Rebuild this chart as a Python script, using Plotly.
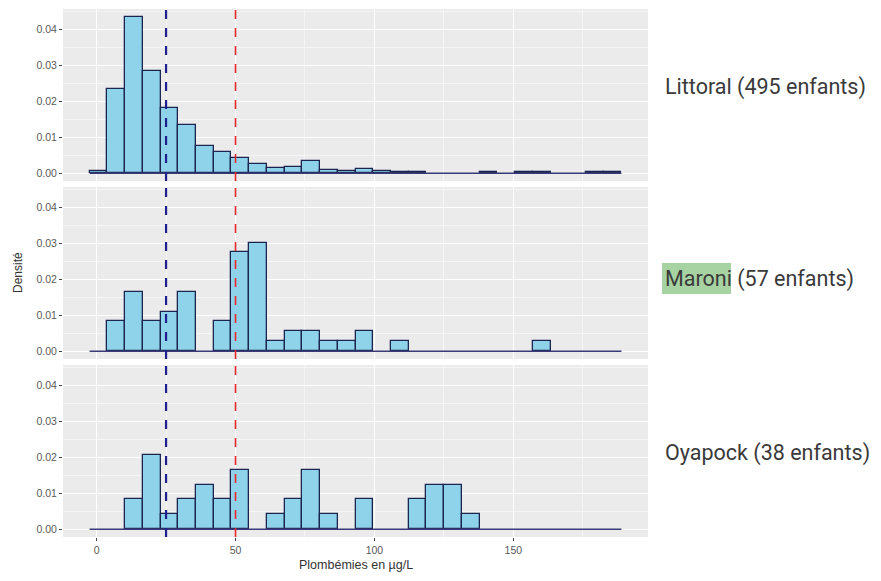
import plotly.graph_objects as go
from plotly.subplots import make_subplots

# ---- data ----
BIN_START = -2.52
BIN_WIDTH = 6.38
N_BINS = 30

panel_labels = ["Littoral (495 enfants)", "Maroni (57 enfants)", "Oyapock (38 enfants)"]

density_littoral = [0.0006, 0.0233, 0.0435, 0.0285, 0.0180, 0.0135, 0.0077, 0.0058, 0.0041, 0.0026,
                    0.0014, 0.0018, 0.0035, 0.0010, 0.0006, 0.0012, 0.0006, 0.0003, 0.0003, 0.0,
                    0.0, 0.0, 0.0003, 0.0, 0.0003, 0.0003, 0.0, 0.0, 0.0003, 0.0003]
density_maroni = [0.0, 0.0083, 0.0165, 0.0083, 0.0110, 0.0165, 0.0, 0.0083, 0.0275, 0.0302,
                  0.0028, 0.0055, 0.0055, 0.0028, 0.0028, 0.0055, 0.0, 0.0028, 0.0, 0.0,
                  0.0, 0.0, 0.0, 0.0, 0.0, 0.0028, 0.0, 0.0, 0.0, 0.0]
density_oyapock = [0.0, 0.0, 0.0083, 0.0206, 0.0041, 0.0083, 0.0124, 0.0083, 0.0165, 0.0,
                   0.0041, 0.0083, 0.0165, 0.0041, 0.0, 0.0083, 0.0, 0.0, 0.0083, 0.0124,
                   0.0124, 0.0041, 0.0, 0.0, 0.0, 0.0, 0.0, 0.0, 0.0, 0.0]

threshold_low = 25
threshold_high = 50

x_ticks = [0, 50, 100, 150]
y_ticks = [0.00, 0.01, 0.02, 0.03, 0.04]
y_tick_text = ["0.00", "0.01", "0.02", "0.03", "0.04"]

x_title = "Plombémies en µg/L"
y_title = "Densité"

# ---- styles ----
FILL = "#8FD3EA"
EDGE = "#1B2550"
BG = "#EBEBEB"
TICKFONT = dict(family="Liberation Sans, Arial", size=10.5, color="#5A5A5A")

OFF = 8  # default page body margin
W, H = 881 - 2 * OFF, 581 - 2 * OFF
# plot area in page pixels: x 63..648, y 9..537
ML = 63 - OFF
MT = 9 - OFF
MR = W - (648 - OFF)
MB = H - (537 - OFF)
PW = W - ML - MR
PH = H - MT - MB

def px_to_paper_x(px):
    return (px - OFF - ML) / PW

def px_to_paper_y(py):
    return (H - MB - (py - OFF)) / PH

centers = [BIN_START + (i + 0.5) * BIN_WIDTH for i in range(N_BINS)]
edge_lo = BIN_START
edge_hi = BIN_START + N_BINS * BIN_WIDTH
xspan = edge_hi - edge_lo
x_range = [edge_lo - 0.05 * xspan, edge_hi + 0.05 * xspan]
ymax = max(density_littoral + density_maroni + density_oyapock)
y_range = [-0.05 * ymax, 1.05 * ymax]

fig = make_subplots(rows=3, cols=1, shared_xaxes=True, vertical_spacing=6 / PH)

series = [density_littoral, density_maroni, density_oyapock]
for r, dens in enumerate(series, start=1):
    fig.add_trace(go.Scatter(x=[edge_lo, edge_hi], y=[0, 0], mode="lines",
                             line=dict(color="#3A3A78", width=1.4), showlegend=False,
                             hoverinfo="skip"), row=r, col=1)
    xs = [c for c, d in zip(centers, dens) if d > 0]
    ys = [d for d in dens if d > 0]
    fig.add_trace(go.Bar(x=xs, y=ys, width=BIN_WIDTH, marker=dict(color=FILL, line=dict(color=EDGE, width=1.3)),
                         showlegend=False), row=r, col=1)
    yref = "y" if r == 1 else f"y{r}"
    xref = "x" if r == 1 else f"x{r}"
    fig.add_shape(type="line", x0=threshold_low, x1=threshold_low, xref=xref,
                  y0=0, y1=1, yref=f"{yref} domain",
                  line=dict(color="#1F1F8F", width=2.2, dash="dash"), layer="above")
    fig.add_shape(type="line", x0=threshold_high, x1=threshold_high, xref=xref,
                  y0=0, y1=1, yref=f"{yref} domain",
                  line=dict(color="#E8282B", width=1.6, dash="dash"), layer="above")

for r in range(1, 4):
    fig.update_xaxes(range=x_range, tickvals=x_ticks, showgrid=True, gridcolor="white", gridwidth=1.1,
                     minor=dict(dtick=25, tick0=0, showgrid=True, gridcolor="#F5F5F5", gridwidth=0.5),
                     zeroline=False, ticks="outside" if r == 3 else "", ticklen=3, tickcolor="#444444",
                     showticklabels=(r == 3), tickfont=TICKFONT, row=r, col=1)
    fig.update_yaxes(range=y_range, tickvals=y_ticks, ticktext=y_tick_text, showgrid=True,
                     gridcolor="white", gridwidth=1.1,
                     minor=dict(dtick=0.005, tick0=0, showgrid=True, gridcolor="#F5F5F5", gridwidth=0.5),
                     zeroline=False, ticks="outside", ticklen=3, tickcolor="#444444",
                     tickfont=TICKFONT, row=r, col=1)

# Facet labels
label_y = [87, 279, 453]
for lab, py in zip(panel_labels, label_y):
    fig.add_annotation(text=lab, x=px_to_paper_x(663), y=px_to_paper_y(py), xref="paper", yref="paper",
                       xanchor="left", yanchor="middle", showarrow=False,
                       font=dict(family="Roboto, Liberation Sans", size=21.5, color="#3A3A3A"))

# Highlight behind "Maroni"
fig.add_shape(type="rect", xref="paper", yref="paper",
              x0=px_to_paper_x(662), x1=px_to_paper_x(731),
              y0=px_to_paper_y(294), y1=px_to_paper_y(263),
              fillcolor="#A7D3A2", line=dict(width=0), layer="below")

fig.add_annotation(text=y_title, x=px_to_paper_x(18), y=0.5, xref="paper", yref="paper",
                   textangle=-90, showarrow=False, xanchor="center", yanchor="middle",
                   font=dict(family="Liberation Sans, Arial", size=12, color="#333333"))
fig.add_annotation(text=x_title, x=0.5, y=px_to_paper_y(565), xref="paper", yref="paper",
                   showarrow=False, xanchor="center", yanchor="middle",
                   font=dict(family="Liberation Sans, Arial", size=12.5, color="#333333"))

fig.update_layout(width=W, height=H, margin=dict(l=ML, r=MR, t=MT, b=MB),
                  plot_bgcolor=BG, paper_bgcolor="white", bargap=0, barmode="overlay",
                  showlegend=False)

fig.write_html("out.html")
